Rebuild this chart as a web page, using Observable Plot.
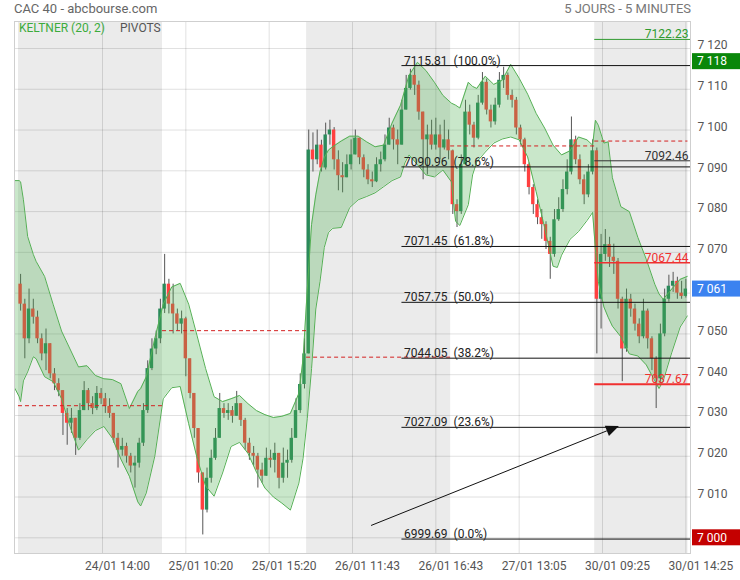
<!DOCTYPE html>
<html><head><meta charset="utf-8">
<script src="https://cdn.jsdelivr.net/npm/d3@7"></script>
<script src="https://cdn.jsdelivr.net/npm/@observablehq/plot@0.6"></script>
<style>
body{margin:0;background:#fff;font-family:Roboto,"Liberation Sans",sans-serif;}
#wrap{position:relative;width:740px;height:580px;overflow:hidden;}
#wrap svg{position:absolute;left:0;top:0;}
.t{position:absolute;white-space:nowrap;font-size:13px;line-height:16px;z-index:2;}
</style></head><body>
<div id="wrap">
 <div class="t" style="left:14px;top:1px;color:#666">CAC 40 - abcbourse.com</div>
 <div class="t" style="right:49px;top:1px;color:#777">5 JOURS - 5 MINUTES</div>
 <div class="t" style="left:19px;top:20px;color:#3cab3c;font-size:12px">KELTNER (20, 2)</div>
 <div class="t" style="left:120px;top:20px;color:#555;font-size:12px">PIVOTS</div>
</div>
<script>
// ---------- DATA ----------
const xTickBars = [59, 118, 177, 236, 295, 354, 413, 472];
const xTickLabels = ["24/01 14:00","25/01 10:20","25/01 15:20","26/01 11:43","26/01 16:43","27/01 13:05","30/01 09:25","30/01 14:25"];
const yTicks = [7000,7010,7020,7030,7040,7050,7060,7070,7080,7090,7100,7110,7120];
const dayFirstBar = [0, 102, 204, 306, 408];
const dayLastBar = [101, 203, 305, 407, 473];
const shadedDays = [0, 2, 4];
const barsPerCandle = 3;
const firstOpen = 7062.2;

const closes = [
 // 24/01
 7057.3,7048.8,7056.1,7054.1,7048.8,7045.1,7047.6,7040.2,7037.8,7036.1,7030.5,7028.1,7029.3,7024.4,7031.2,7036.1,7032.9,
 7031.7,7035.4,7034.1,7032.2,7030.5,7024.4,7021.5,7022.4,7020.0,7017.6,7018.3,7023.2,7031.2,7041.5,7046.3,7048.8,7056.1,
 // 25/01
 7062.2,7057.3,7054.9,7052.4,7053.7,7043.9,7035.4,7026.8,7015.9,7006.8,7014.6,7019.5,7024.4,7031.7,7030.5,7031.2,7029.8,
 7032.9,7028.8,7023.2,7020.7,7020.0,7016.6,7015.1,7019.5,7019.0,7020.7,7014.6,7018.3,7019.0,7024.4,7031.2,7037.6,7045.1,
 // 26/01
 7095.1,7092.7,7096.3,7090.7,7098.8,7100.0,7092.7,7088.8,7088.3,7091.5,7093.9,7098.0,7093.2,7090.2,7087.8,7087.3,7091.5,
 7092.7,7096.3,7100.5,7097.6,7096.3,7104.9,7110.2,7113.4,7111.0,7104.4,7097.6,7098.8,7096.3,7098.8,7095.6,7097.6,7094.9,
 // 27/01
 7081.7,7080.0,7091.5,7104.4,7101.2,7098.0,7106.6,7111.7,7104.9,7102.0,7106.1,7112.2,7113.4,7108.5,7107.3,7100.5,7097.6,
 7091.5,7085.9,7081.7,7078.5,7076.8,7072.7,7069.5,7078.0,7080.5,7085.4,7089.7,7097.6,7092.7,7087.8,7084.1,7089.7,7094.9,
 // 30/01
 7058.5,7069.5,7071.9,7068.8,7067.8,7058.5,7046.3,7058.5,7056.1,7052.4,7049.3,7055.6,7048.8,7043.9,7039.0,7050.0,7058.5,
 7061.7,7062.9,7060.0,7059.2,7061.0
];
const highs = [
 7064.6,7058.5,7061.0,7058.5,7055.6,7050.0,7051.2,7047.6,7041.5,7039.0,7036.1,7031.7,7031.7,7029.3,7032.9,7038.3,7036.6,
 7034.6,7037.1,7036.6,7035.4,7034.1,7030.5,7025.6,7024.4,7023.2,7020.7,7020.0,7024.4,7032.9,7043.4,7048.8,7050.7,7058.5,
 7069.5,7063.4,7062.2,7056.1,7055.6,7054.1,7043.9,7035.4,7026.8,7015.9,7017.1,7021.5,7026.8,7035.4,7032.9,7032.9,7032.2,
 7035.9,7032.9,7029.3,7024.4,7022.4,7020.7,7018.3,7022.0,7021.5,7023.2,7020.7,7022.0,7021.5,7026.8,7034.1,7040.2,7048.8,
 7100.0,7099.3,7100.0,7097.5,7101.7,7102.4,7100.6,7094.9,7092.0,7093.9,7097.6,7100.0,7098.0,7093.9,7091.5,7089.7,7093.2,
 7094.6,7098.8,7102.9,7101.2,7100.0,7107.3,7113.4,7114.9,7115.8,7112.0,7104.4,7101.2,7102.4,7102.9,7101.2,7102.4,7100.0,
 7095.1,7082.9,7093.9,7107.3,7106.1,7101.9,7108.5,7114.1,7112.5,7106.1,7107.8,7114.1,7115.4,7114.0,7109.8,7108.0,7101.2,
 7098.0,7091.9,7086.6,7082.9,7080.5,7077.5,7073.7,7080.5,7083.4,7087.8,7092.7,7103.2,7098.5,7093.9,7089.0,7091.5,7097.6,
 7095.6,7074.4,7075.6,7073.7,7072.0,7068.5,7059.0,7061.0,7059.7,7057.3,7053.7,7058.5,7056.1,7049.3,7044.4,7052.4,7061.0,
 7064.4,7065.1,7063.9,7062.9,7063.4
];
const lows = [
 7055.6,7043.9,7047.6,7052.4,7047.6,7043.4,7041.0,7039.0,7036.1,7034.6,7025.1,7022.7,7025.6,7020.2,7023.9,7031.2,7031.2,
 7030.2,7031.2,7032.7,7030.5,7029.3,7023.2,7017.1,7020.0,7018.3,7015.9,7012.2,7017.1,7022.4,7030.5,7041.0,7044.9,7047.6,
 7055.0,7054.9,7050.0,7050.7,7050.0,7039.5,7034.1,7024.4,7013.4,7000.7,7006.1,7013.4,7019.0,7024.4,7029.3,7028.8,7028.1,
 7029.8,7027.3,7021.5,7019.0,7017.6,7012.2,7013.4,7015.1,7017.1,7015.9,7012.0,7013.4,7014.6,7018.3,7024.4,7030.5,7036.5,
 7045.1,7089.7,7091.5,7089.7,7090.2,7096.3,7090.2,7085.1,7084.6,7088.3,7090.2,7093.9,7091.5,7088.3,7086.6,7085.9,7087.1,
 7089.7,7092.2,7096.3,7095.1,7091.5,7096.3,7104.9,7109.8,7108.5,7102.4,7087.8,7089.0,7095.1,7095.1,7092.7,7095.1,7092.7,
 7079.3,7076.1,7079.3,7091.5,7098.8,7095.6,7097.6,7106.1,7103.7,7100.5,7101.2,7105.4,7110.2,7107.3,7105.4,7098.8,7096.3,
 7089.7,7084.1,7079.3,7076.8,7073.2,7070.7,7063.4,7068.8,7077.6,7079.8,7084.1,7089.0,7091.5,7086.6,7081.7,7083.4,7089.0,
 7045.1,7051.2,7067.8,7066.3,7064.6,7056.1,7038.3,7045.5,7054.1,7050.7,7047.6,7048.8,7046.3,7041.0,7031.7,7037.8,7049.3,
 7057.8,7060.2,7058.5,7058.5,7058.8
];

// Keltner (20, 2) envelope
const bandBars = [-3,0,1,3,6,10,12,18,24,30,36,42,48,54,60,66,72,78,84,86,90,96,102,108,114,120,126,132,138,144,150,156,162,168,174,180,186,192,198,201,204,207,210,213,216,219,222,228,234,240,246,252,258,264,270,273,276,282,288,294,300,306,309,312,318,321,324,330,336,342,348,354,360,366,372,378,381,384,390,396,402,406,408,410,414,417,420,426,432,438,444,450,453,456,462,468,473];
const bandUpper = [7087.6,7087.6,7087.3,7082.9,7073.9,7069.5,7067.8,7064.1,7057.3,7050.7,7046.3,7041.9,7042.2,7039.8,7039.0,7038.8,7037.8,7031.7,7035.9,7036.6,7039.5,7048.8,7057.3,7061.5,7062.4,7057.3,7049.5,7041.5,7034.6,7033.4,7034.1,7034.9,7032.9,7031.2,7030.2,7029.5,7029.8,7030.5,7035.4,7043.9,7061.0,7076.8,7084.1,7089.8,7093.2,7095.1,7095.9,7097.3,7098.5,7098.5,7097.1,7095.9,7096.3,7101.7,7106.1,7109.8,7113.4,7116.6,7114.6,7111.7,7108.5,7106.6,7106.1,7105.4,7111.7,7110.7,7110.2,7113.2,7111.2,7112.2,7116.1,7112.7,7108.8,7104.1,7100.5,7096.3,7095.1,7093.9,7094.9,7098.3,7097.6,7096.3,7102.4,7101.2,7096.8,7097.1,7088.3,7081.2,7080.0,7073.7,7068.3,7062.2,7059.8,7058.5,7061.0,7063.4,7064.1];
const bandLower = [7036.6,7034.6,7033.4,7038.5,7040.7,7044.4,7043.9,7039.5,7038.3,7034.1,7027.3,7021.5,7024.1,7026.3,7027.3,7024.4,7019.3,7015.1,7008.8,7007.8,7011.0,7020.0,7034.1,7036.8,7037.1,7028.0,7019.5,7012.7,7010.2,7015.9,7022.4,7023.4,7020.7,7016.1,7012.2,7010.0,7008.5,7006.8,7013.4,7019.5,7029.3,7041.5,7056.1,7062.9,7071.2,7074.9,7075.9,7076.1,7081.0,7082.9,7083.7,7084.6,7086.1,7087.6,7088.5,7091.9,7093.9,7091.5,7089.0,7088.5,7090.2,7087.3,7077.6,7076.6,7081.7,7089.0,7092.2,7094.6,7096.8,7097.8,7098.3,7097.6,7093.4,7084.9,7076.1,7066.6,7066.3,7069.3,7073.2,7075.1,7077.8,7079.8,7070.7,7062.9,7056.6,7054.1,7051.9,7049.3,7045.1,7044.6,7042.4,7038.5,7036.6,7038.5,7045.4,7051.7,7054.4];

// daily pivots
const pivotValues = [7032.4, 7050.8, 7044.3, 7096.1, 7097.3];

// Fibonacci retracement
const fibValues = [7115.81, 7090.96, 7071.45, 7057.75, 7044.05, 7027.09, 6999.69];
const fibPercents = ["100.0%", "78.6%", "61.8%", "50.0%", "38.2%", "23.6%", "0.0%"];
const fibStartBar = 271;

// levels of the last session
const levelValues = [7122.23, 7092.46, 7067.44, 7037.67];
const levelColors = ["#2e9a2e", "#333333", "#f03030", "#f03030"];
const levelWidths = [1, 1, 1.5, 2];

// trend arrow [bar, price]
const arrowFrom = [249.5, 7002.9];
const arrowTo = [425.0, 7027.3];

// highlighted values on the price axis
const boxValues = [7118, 7061, 7000];
const boxColors = ["#0a870a", "#3b82f0", "#c40000"];

// ---------- BUILD ----------
const candles = closes.map((c, i) => {
  const open = i ? closes[i - 1] : firstOpen;
  return {bar: i * barsPerCandle + 1, open, close: c,
          high: Math.max(highs[i], open, c), low: Math.min(lows[i], open, c)};
});
const band = bandBars.map((b, i) => ({bar: b, upper: bandUpper[i], lower: bandLower[i]}));
const pivots = pivotValues.map((v, d) => ({v, x1: dayFirstBar[d] - 0.5, x2: dayLastBar[d] + 0.5}));
const fib = fibValues.map((v, i) => ({v, label: v.toFixed(2) + "\u00a0\u00a0(" + fibPercents[i] + ")"}));
const lastDay = dayFirstBar.length - 1;
const levels = levelValues.map((v, i) => ({v, color: levelColors[i], w: levelWidths[i], label: v.toFixed(2)}));

const fmtK = v => { const s = String(v); return s.slice(0, s.length - 3) + " " + s.slice(-3); };
const xLabelOf = new Map(xTickBars.map((b, i) => [b, xTickLabels[i]]));
const xDomain = [-3.31, 475.3];
const yDomain = [6996.15, 7126.62];
const UP = "#2a8a5a", DOWN = "#ff4040";
// axis labels hidden behind the highlighted boxes
const yLabelTicks = yTicks.filter(t => !boxValues.some((b, i) => i > 0 && Math.abs(b - t) < 3));

const chart = Plot.plot({
  width: 740, height: 580,
  marginTop: 21, marginLeft: 14, marginRight: 50, marginBottom: 27,
  style: {fontFamily: "Roboto, sans-serif", fontSize: "12px", color: "#555", background: "transparent", overflow: "visible"},
  x: {domain: xDomain, axis: null},
  y: {domain: yDomain, axis: null},
  marks: [
    Plot.rect(shadedDays, {x1: d => dayFirstBar[d] - 0.5, x2: d => Math.min(dayLastBar[d] + 0.5, xDomain[1]), y1: yDomain[0], y2: yDomain[1], fill: "#ebebeb"}),
    Plot.gridY(yTicks, {stroke: "#000", strokeOpacity: 0.12}),
    Plot.gridX(xTickBars, {stroke: "#000", strokeOpacity: 0.12}),
    Plot.ruleX(candles, {x: "bar", y1: "low", y2: "high", stroke: "#555", strokeWidth: 1}),
    Plot.rect(candles, {x1: d => d.bar - 1.2, x2: d => d.bar + 1.2, y1: "open", y2: "close",
      fill: d => d.close >= d.open ? UP : DOWN}),
    Plot.areaY(band, {x: "bar", y1: "lower", y2: "upper", fill: "#4caf50", fillOpacity: 0.3, curve: "linear"}),
    Plot.line(band, {x: "bar", y: "upper", stroke: "#55b055", strokeWidth: 1}),
    Plot.line(band, {x: "bar", y: "lower", stroke: "#55b055", strokeWidth: 1}),
    Plot.ruleY(pivots, {y: "v", x1: "x1", x2: "x2", stroke: "#d42020", strokeWidth: 1, strokeDasharray: "4,3"}),
    Plot.ruleY(fib, {y: "v", x1: fibStartBar, x2: xDomain[1], stroke: "#111", strokeWidth: 1}),
    Plot.text(fib, {x: fibStartBar, y: "v", text: "label", textAnchor: "start", lineAnchor: "bottom", dx: 2, dy: -1, fill: "#222", fontSize: 12}),
    Plot.ruleY(levels, {y: "v", x1: dayFirstBar[lastDay] - 0.5, x2: xDomain[1], stroke: "color", strokeWidth: "w"}),
    Plot.text(levels, {x: xDomain[1], y: "v", text: "label", textAnchor: "end", lineAnchor: "bottom", dx: -2, dy: -1, fill: "color", fontSize: 12}),
    // trend arrow with filled head
    (index, scales) => {
      const x0 = scales.x(arrowFrom[0]), y0 = scales.y(arrowFrom[1]);
      const x1 = scales.x(arrowTo[0]), y1 = scales.y(arrowTo[1]);
      const a = Math.atan2(y1 - y0, x1 - x0), L = 13, W = 5.5;
      const bx = x1 - L * Math.cos(a), by = y1 - L * Math.sin(a);
      const g = d3.create("svg:g");
      g.append("line").attr("x1", x0).attr("y1", y0).attr("x2", bx).attr("y2", by).attr("stroke", "#111").attr("stroke-width", 1);
      g.append("path").attr("fill", "#111").attr("d",
        `M${x1},${y1}L${bx + W * Math.sin(a)},${by - W * Math.cos(a)}L${bx - W * Math.sin(a)},${by + W * Math.cos(a)}Z`);
      return g.node();
    },
    Plot.frame({stroke: "#cfcfcf"}),
    Plot.axisY(yLabelTicks, {anchor: "right", tickSize: 0, tickPadding: 7, tickFormat: fmtK, fontSize: 12, dy: -3}),
    Plot.axisX(xTickBars, {anchor: "bottom", tickSize: 0, tickPadding: 8, tickFormat: d => xLabelOf.get(d), dx: 15, fontSize: 12}),
    // highlighted axis values
    (index, scales, values, dim) => {
      const g = d3.create("svg:g").attr("text-anchor", "start");
      const left = dim.width - dim.marginRight + 2;
      boxValues.forEach((v, i) => {
        let y = scales.y(v);
        if (i === 0) y += 5; // sits just under the 7 120 label, as in the source
        g.append("rect").attr("x", left).attr("y", y - 8).attr("width", dim.width - left).attr("height", 16).attr("fill", boxColors[i]);
        g.append("text").attr("x", left + 5).attr("y", y).attr("dy", "0.36em").attr("fill", "#fff")
          .attr("text-anchor", "start").attr("font-size", 12).attr("font-family", "Roboto, sans-serif").text(fmtK(v));
      });
      return g.node();
    }
  ]
});
document.getElementById("wrap").prepend(chart);
</script>
</body></html>
